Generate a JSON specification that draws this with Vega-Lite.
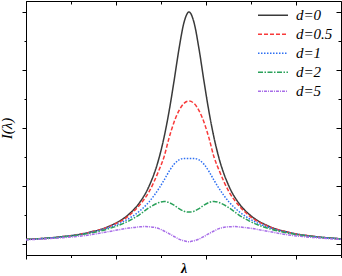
{
  "$schema": "https://vega.github.io/schema/vega-lite/v6.json",
  "width": 315,
  "height": 254,
  "autosize": "none",
  "padding": {"left": 26, "top": 1, "right": 1, "bottom": 21},
  "background": "white",
  "config": {
    "view": {"stroke": "black", "strokeWidth": 1},
    "font": "Liberation Serif",
    "axis": {"domainColor": "black", "tickColor": "black", "labels": false, "grid": false, "domainWidth": 1, "tickWidth": 1}
  },
  "data": {"values": [
    {"lam": -163, "I": 0.16, "s": "d=0"}, {"lam": -130, "I": 0.24, "s": "d=0"}, {"lam": -100, "I": 0.40, "s": "d=0"}, {"lam": -80, "I": 0.61, "s": "d=0"}, {"lam": -60, "I": 1.03, "s": "d=0"}, {"lam": -50, "I": 1.40, "s": "d=0"}, {"lam": -40, "I": 1.99, "s": "d=0"}, {"lam": -30, "I": 2.96, "s": "d=0"}, {"lam": -25, "I": 3.67, "s": "d=0"}, {"lam": -20, "I": 4.56, "s": "d=0"}, {"lam": -15, "I": 5.61, "s": "d=0"}, {"lam": -10, "I": 6.73, "s": "d=0"}, {"lam": -5, "I": 7.64, "s": "d=0"}, {"lam": 0, "I": 8.0, "s": "d=0"}, {"lam": 5, "I": 7.64, "s": "d=0"}, {"lam": 10, "I": 6.73, "s": "d=0"}, {"lam": 15, "I": 5.61, "s": "d=0"}, {"lam": 20, "I": 4.56, "s": "d=0"}, {"lam": 25, "I": 3.67, "s": "d=0"}, {"lam": 30, "I": 2.96, "s": "d=0"}, {"lam": 40, "I": 1.99, "s": "d=0"}, {"lam": 50, "I": 1.40, "s": "d=0"}, {"lam": 60, "I": 1.03, "s": "d=0"}, {"lam": 80, "I": 0.61, "s": "d=0"}, {"lam": 100, "I": 0.40, "s": "d=0"}, {"lam": 130, "I": 0.24, "s": "d=0"}, {"lam": 152, "I": 0.18, "s": "d=0"},

    {"lam": -163, "I": 0.155, "s": "d=0.5"}, {"lam": -130, "I": 0.24, "s": "d=0.5"}, {"lam": -100, "I": 0.40, "s": "d=0.5"}, {"lam": -80, "I": 0.60, "s": "d=0.5"}, {"lam": -60, "I": 0.98, "s": "d=0.5"}, {"lam": -50, "I": 1.32, "s": "d=0.5"}, {"lam": -40, "I": 1.80, "s": "d=0.5"}, {"lam": -30, "I": 2.55, "s": "d=0.5"}, {"lam": -25, "I": 3.0, "s": "d=0.5"}, {"lam": -20, "I": 3.65, "s": "d=0.5"}, {"lam": -15, "I": 4.2, "s": "d=0.5"}, {"lam": -10, "I": 4.6, "s": "d=0.5"}, {"lam": -5, "I": 4.85, "s": "d=0.5"}, {"lam": 0, "I": 4.93, "s": "d=0.5"}, {"lam": 5, "I": 4.85, "s": "d=0.5"}, {"lam": 10, "I": 4.6, "s": "d=0.5"}, {"lam": 15, "I": 4.2, "s": "d=0.5"}, {"lam": 20, "I": 3.65, "s": "d=0.5"}, {"lam": 25, "I": 3.0, "s": "d=0.5"}, {"lam": 30, "I": 2.55, "s": "d=0.5"}, {"lam": 40, "I": 1.80, "s": "d=0.5"}, {"lam": 50, "I": 1.32, "s": "d=0.5"}, {"lam": 60, "I": 0.98, "s": "d=0.5"}, {"lam": 80, "I": 0.60, "s": "d=0.5"}, {"lam": 100, "I": 0.40, "s": "d=0.5"}, {"lam": 130, "I": 0.24, "s": "d=0.5"}, {"lam": 152, "I": 0.18, "s": "d=0.5"},

    {"lam": -163, "I": 0.155, "s": "d=1"}, {"lam": -130, "I": 0.24, "s": "d=1"}, {"lam": -100, "I": 0.39, "s": "d=1"}, {"lam": -80, "I": 0.57, "s": "d=1"}, {"lam": -60, "I": 0.88, "s": "d=1"}, {"lam": -50, "I": 1.12, "s": "d=1"}, {"lam": -40, "I": 1.45, "s": "d=1"}, {"lam": -30, "I": 1.92, "s": "d=1"}, {"lam": -25, "I": 2.2, "s": "d=1"}, {"lam": -20, "I": 2.5, "s": "d=1"}, {"lam": -15, "I": 2.75, "s": "d=1"}, {"lam": -10, "I": 2.9, "s": "d=1"}, {"lam": -5, "I": 2.95, "s": "d=1"}, {"lam": 0, "I": 2.95, "s": "d=1"}, {"lam": 5, "I": 2.95, "s": "d=1"}, {"lam": 10, "I": 2.9, "s": "d=1"}, {"lam": 15, "I": 2.75, "s": "d=1"}, {"lam": 20, "I": 2.5, "s": "d=1"}, {"lam": 25, "I": 2.2, "s": "d=1"}, {"lam": 30, "I": 1.92, "s": "d=1"}, {"lam": 40, "I": 1.45, "s": "d=1"}, {"lam": 50, "I": 1.12, "s": "d=1"}, {"lam": 60, "I": 0.88, "s": "d=1"}, {"lam": 80, "I": 0.57, "s": "d=1"}, {"lam": 100, "I": 0.39, "s": "d=1"}, {"lam": 130, "I": 0.24, "s": "d=1"}, {"lam": 152, "I": 0.178, "s": "d=1"},

    {"lam": -163, "I": 0.152, "s": "d=2"}, {"lam": -130, "I": 0.235, "s": "d=2"}, {"lam": -100, "I": 0.37, "s": "d=2"}, {"lam": -80, "I": 0.53, "s": "d=2"}, {"lam": -60, "I": 0.80, "s": "d=2"}, {"lam": -50, "I": 1.0, "s": "d=2"}, {"lam": -40, "I": 1.25, "s": "d=2"}, {"lam": -30, "I": 1.43, "s": "d=2"}, {"lam": -25, "I": 1.47, "s": "d=2"}, {"lam": -20, "I": 1.43, "s": "d=2"}, {"lam": -15, "I": 1.34, "s": "d=2"}, {"lam": -10, "I": 1.22, "s": "d=2"}, {"lam": -5, "I": 1.13, "s": "d=2"}, {"lam": 0, "I": 1.10, "s": "d=2"}, {"lam": 5, "I": 1.13, "s": "d=2"}, {"lam": 10, "I": 1.22, "s": "d=2"}, {"lam": 15, "I": 1.34, "s": "d=2"}, {"lam": 20, "I": 1.43, "s": "d=2"}, {"lam": 25, "I": 1.47, "s": "d=2"}, {"lam": 30, "I": 1.43, "s": "d=2"}, {"lam": 40, "I": 1.25, "s": "d=2"}, {"lam": 50, "I": 1.0, "s": "d=2"}, {"lam": 60, "I": 0.80, "s": "d=2"}, {"lam": 80, "I": 0.53, "s": "d=2"}, {"lam": 100, "I": 0.37, "s": "d=2"}, {"lam": 130, "I": 0.235, "s": "d=2"}, {"lam": 152, "I": 0.175, "s": "d=2"},

    {"lam": -163, "I": 0.145, "s": "d=5"}, {"lam": -130, "I": 0.21, "s": "d=5"}, {"lam": -100, "I": 0.31, "s": "d=5"}, {"lam": -80, "I": 0.43, "s": "d=5"}, {"lam": -60, "I": 0.55, "s": "d=5"}, {"lam": -50, "I": 0.59, "s": "d=5"}, {"lam": -45, "I": 0.60, "s": "d=5"}, {"lam": -40, "I": 0.595, "s": "d=5"}, {"lam": -30, "I": 0.53, "s": "d=5"}, {"lam": -25, "I": 0.45, "s": "d=5"}, {"lam": -20, "I": 0.36, "s": "d=5"}, {"lam": -15, "I": 0.26, "s": "d=5"}, {"lam": -10, "I": 0.17, "s": "d=5"}, {"lam": -5, "I": 0.11, "s": "d=5"}, {"lam": 0, "I": 0.08, "s": "d=5"}, {"lam": 5, "I": 0.11, "s": "d=5"}, {"lam": 10, "I": 0.17, "s": "d=5"}, {"lam": 15, "I": 0.26, "s": "d=5"}, {"lam": 20, "I": 0.36, "s": "d=5"}, {"lam": 25, "I": 0.45, "s": "d=5"}, {"lam": 30, "I": 0.53, "s": "d=5"}, {"lam": 40, "I": 0.595, "s": "d=5"}, {"lam": 45, "I": 0.60, "s": "d=5"}, {"lam": 50, "I": 0.59, "s": "d=5"}, {"lam": 60, "I": 0.55, "s": "d=5"}, {"lam": 80, "I": 0.43, "s": "d=5"}, {"lam": 100, "I": 0.31, "s": "d=5"}, {"lam": 130, "I": 0.21, "s": "d=5"}, {"lam": 152, "I": 0.16, "s": "d=5"}
  ]},
  "layer": [
    {
      "mark": {"type": "line", "interpolate": "monotone", "strokeWidth": 1.5, "clip": true},
      "encoding": {
        "x": {"field": "lam", "type": "quantitative",
          "scale": {"domain": [-163, 152], "nice": false, "zero": false},
          "axis": {"orient": "bottom", "values": [-163, -118, -73, -28, 17, 62, 107, 152], "title": "λ",
            "titleFont": "Liberation Serif", "titleFontSize": 14, "titleFontStyle": "italic", "titleFontWeight": "bold", "titlePadding": 2, "titleColor": "black",
            "tickSize": {"condition": {"test": "((datum.value + 163) / 45) % 2 === 0", "value": 4}, "value": 2.5}}},
        "y": {"field": "I", "type": "quantitative",
          "scale": {"domain": [-0.379, 8.38], "nice": false, "zero": false},
          "axis": {"orient": "left", "values": [0, 1, 2, 3, 4, 5, 6, 7, 8], "title": "I(λ)",
            "titleFont": "Liberation Serif", "titleFontSize": 15, "titleFontStyle": "italic", "titleFontWeight": "normal", "titlePadding": 7, "titleColor": "black",
            "tickSize": {"condition": {"test": "datum.value % 2 === 0", "value": 4}, "value": 2}}},
        "color": {"field": "s", "type": "nominal",
          "scale": {"domain": ["d=0", "d=0.5", "d=1", "d=2", "d=5"], "range": ["#3a3a3a", "#f83a3a", "#2d6ff2", "#2aa15a", "#a86ee8"]},
          "legend": {"orient": "none", "legendX": 231, "legendY": 5, "title": null, "symbolType": "stroke", "symbolSize": 900, "symbolStrokeWidth": 1.5, "clipHeight": 18.3, "rowPadding": 0, "labelFont": "Liberation Serif", "labelFontSize": 15, "labelFontStyle": "italic", "labelColor": "black", "labelOffset": 7, "padding": 0}},
        "strokeDash": {"field": "s", "type": "nominal",
          "scale": {"domain": ["d=0", "d=0.5", "d=1", "d=2", "d=5"], "range": [[1, 0], [4, 2], [1.5, 1.5], [5, 1.5, 1.5, 1.5], [3, 1, 1, 1]]},
          "legend": null}
      }
    },
    {
      "mark": {"type": "line", "opacity": 0},
      "encoding": {
        "x": {"field": "lam", "type": "quantitative",
          "axis": {"orient": "top", "values": [-163, -118, -73, -28, 17, 62, 107, 152], "title": null, "domain": false,
            "tickSize": {"condition": {"test": "((datum.value + 163) / 45) % 2 === 0", "value": -4}, "value": -3}}},
        "y": {"field": "I", "type": "quantitative",
          "axis": {"orient": "right", "values": [0, 1, 2, 3, 4, 5, 6, 7, 8], "title": null, "domain": false,
            "tickSize": {"condition": {"test": "datum.value % 2 === 0", "value": -5}, "value": -3}}},
        "detail": {"field": "s", "type": "nominal"}
      }
    }
  ],
  "resolve": {"axis": {"x": "independent", "y": "independent"}}
}
